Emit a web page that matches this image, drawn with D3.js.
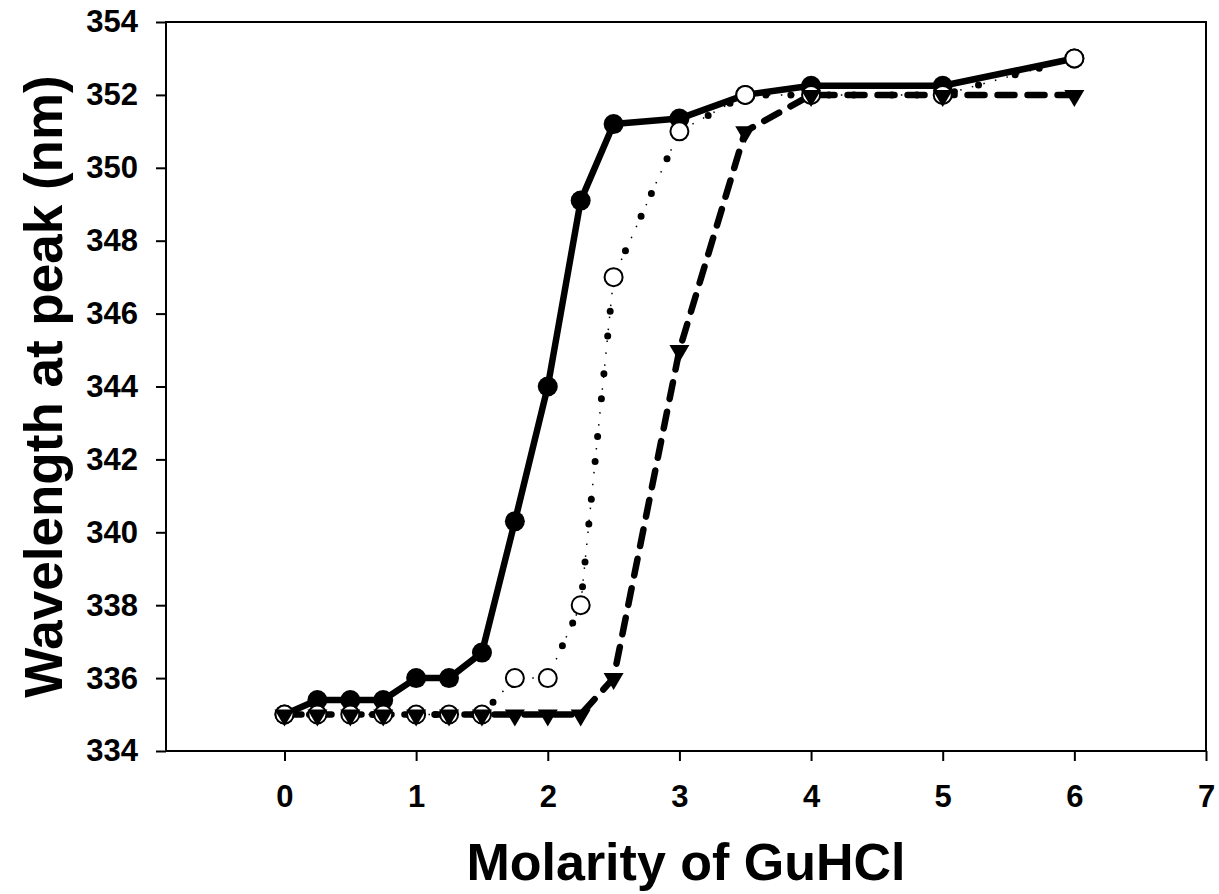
<!DOCTYPE html>
<html>
<head>
<meta charset="utf-8">
<script src="https://cdn.jsdelivr.net/npm/d3@7"></script>
<style>
  body { margin: 0; background: #fff; }
  text { font-family: "Liberation Sans", Arial, sans-serif; font-weight: bold; fill: #000; }
</style>
</head>
<body>
<div id="wrapper"></div>
<script>
// data
const molarity = [0, 0.25, 0.5, 0.75, 1, 1.25, 1.5, 1.75, 2, 2.25, 2.5, 3, 3.5, 4, 5, 6]
const filledValues = [335, 335.4, 335.4, 335.4, 336, 336, 336.7, 340.3, 344, 349.1, 351.2, 351.35, 352, 352.25, 352.25, 353]
const openValues = [335, 335, 335, 335, 335, 335, 335, 336, 336, 338, 347, 351, 352, 352, 352, 353]
const triangleValues = [335, 335, 335, 335, 335, 335, 335, 335, 335, 335, 336, 345, 351, 352, 352, 352]
const xTicks = [0, 1, 2, 3, 4, 5, 6, 7]
const yTicks = [334, 336, 338, 340, 342, 344, 346, 348, 350, 352, 354]
const xLabel = "Molarity of GuHCl"
const yLabel = "Wavelength at peak (nm)"

function drawChart() {
    let dimensions = {
        width: 1219,
        height: 894,
        margin: { top: 22, right: 13, bottom: 143, left: 166 },
    }
    dimensions.boundedWidth = dimensions.width - dimensions.margin.left - dimensions.margin.right
    dimensions.boundedHeight = dimensions.height - dimensions.margin.top - dimensions.margin.bottom

    const wrapper = d3.select("#wrapper")
        .append("svg")
        .attr("width", dimensions.width)
        .attr("height", dimensions.height)

    const bounds = wrapper.append("g")
        .attr("transform", `translate(${dimensions.margin.left},${dimensions.margin.top})`)

    const xScale = d3.scaleLinear()
        .domain([-0.9, 7])
        .range([0, dimensions.boundedWidth])
    const yScale = d3.scaleLinear()
        .domain([334, 354])
        .range([dimensions.boundedHeight, 0])

    // axes
    bounds.append("g")
        .call(d3.axisLeft(yScale).tickValues(yTicks).tickSize(10).tickPadding(18).tickFormat(d3.format("d")))
    bounds.append("g")
        .attr("transform", `translate(0,${dimensions.boundedHeight})`)
        .call(d3.axisBottom(xScale).tickValues(xTicks).tickSize(10).tickPadding(24).tickFormat(d3.format("d")))
    bounds.selectAll(".domain").remove()
    bounds.selectAll(".tick line").attr("stroke", "#000").attr("stroke-width", 2)
    bounds.selectAll(".tick text").style("font-size", "31px")

    // frame
    bounds.append("rect")
        .attr("width", dimensions.boundedWidth)
        .attr("height", dimensions.boundedHeight)
        .attr("fill", "none")
        .attr("stroke", "#000")
        .attr("stroke-width", 2)

    const line = values => d3.line()
        .x((d, i) => xScale(molarity[i]))
        .y(d => yScale(d))(values)

    // dashed line (triangles)
    bounds.append("path")
        .attr("d", line(triangleValues))
        .attr("fill", "none")
        .attr("stroke", "#000")
        .attr("stroke-width", 6.5)
        .attr("stroke-linecap", "round")
        .attr("stroke-dasharray", "17 13")

    // dotted line (open circles): fine dots plus heavier dots
    bounds.append("path")
        .attr("d", line(openValues))
        .attr("fill", "none")
        .attr("stroke", "#000")
        .attr("stroke-width", 1.5)
        .attr("stroke-dasharray", "1.5 10.5")
    bounds.append("path")
        .attr("d", line(openValues))
        .attr("fill", "none")
        .attr("stroke", "#000")
        .attr("stroke-width", 7)
        .attr("stroke-linecap", "round")
        .attr("stroke-dasharray", "0 25 0 38")

    // solid line (filled circles)
    bounds.append("path")
        .attr("d", line(filledValues))
        .attr("fill", "none")
        .attr("stroke", "#000")
        .attr("stroke-width", 6.5)
        .attr("stroke-linejoin", "round")

    // markers
    bounds.append("g").selectAll("circle")
        .data(filledValues)
        .join("circle")
        .attr("cx", (d, i) => xScale(molarity[i]))
        .attr("cy", d => yScale(d))
        .attr("r", 10)
        .attr("fill", "#000")

    bounds.append("g").selectAll("circle")
        .data(openValues)
        .join("circle")
        .attr("cx", (d, i) => xScale(molarity[i]))
        .attr("cy", d => yScale(d))
        .attr("r", 9)
        .attr("fill", "#fff")
        .attr("stroke", "#000")
        .attr("stroke-width", 2)

    bounds.append("g").selectAll("path")
        .data(triangleValues)
        .join("path")
        .attr("transform", (d, i) => `translate(${xScale(molarity[i])},${yScale(d)})`)
        .attr("d", "M-10,-5 L10,-5 L0,12 Z")
        .attr("fill", "#000")

    // axis titles
    wrapper.append("text")
        .attr("x", dimensions.margin.left + dimensions.boundedWidth / 2)
        .attr("y", 880)
        .attr("text-anchor", "middle")
        .style("font-size", "52px")
        .text(xLabel)

    wrapper.append("text")
        .attr("transform", `translate(62,${dimensions.margin.top + dimensions.boundedHeight / 2}) rotate(-90)`)
        .attr("text-anchor", "middle")
        .style("font-size", "53px")
        .text(yLabel)
}

drawChart()
</script>
</body>
</html>
